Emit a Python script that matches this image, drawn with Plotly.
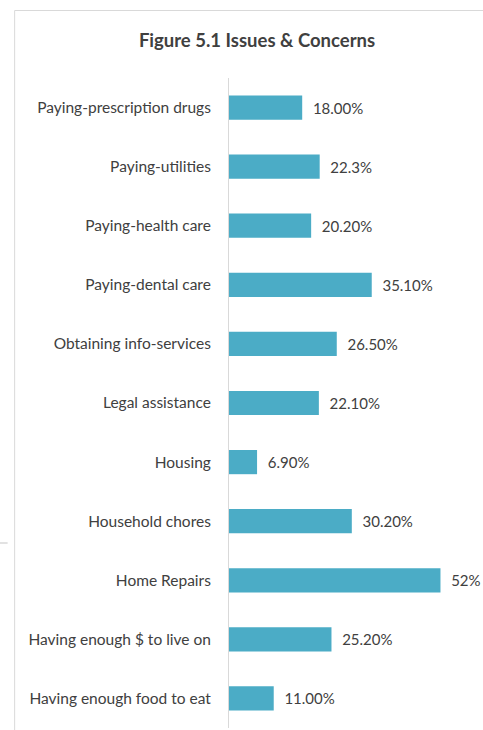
import plotly.graph_objects as go

# Survey issues, listed top to bottom
categories = [
    "Paying-prescription drugs",
    "Paying-utilities",
    "Paying-health care",
    "Paying-dental care",
    "Obtaining info-services",
    "Legal assistance",
    "Housing",
    "Household chores",
    "Home Repairs",
    "Having enough $ to live on",
    "Having enough food to eat",
]
values = [18.0, 22.3, 20.2, 35.1, 26.5, 22.1, 6.9, 30.2, 52.0, 25.2, 11.0]
value_labels = ["18.00%", "22.3%", "20.20%", "35.10%", "26.50%", "22.10%",
                "6.90%", "30.20%", "52%", "25.20%", "11.00%"]

BAR = "#4BACC6"
TEXT = "#404040"
GRID = "#D9D9D9"
FONT = "Lato"

fig = go.Figure(
    go.Bar(
        x=values,
        y=categories,
        orientation="h",
        marker=dict(color=BAR, line=dict(width=0)),
        text=["  " + s for s in value_labels],
        textposition="outside",
        textfont=dict(family=FONT, size=15, color=TEXT),
        cliponaxis=False,
        hoverinfo="skip",
    )
)

# frame around the chart (top and left edges)
L, PW = 229, 243.6
T, PH = 78, 650


def px_x(p):
    return (p - L) / PW


def px_y(p):
    return (T + PH - p) / PH


shapes = [
    dict(type="line", xref="paper", yref="paper",
         x0=px_x(15), x1=px_x(490), y0=px_y(10.5), y1=px_y(10.5),
         line=dict(color=GRID, width=1)),
    dict(type="line", xref="paper", yref="paper",
         x0=px_x(15), x1=px_x(15), y0=px_y(10.5), y1=px_y(735),
         line=dict(color=GRID, width=1)),
    dict(type="line", xref="paper", yref="paper",
         x0=px_x(0), x1=px_x(8), y0=px_y(543), y1=px_y(543),
         line=dict(color=GRID, width=1.5)),
]

fig.update_layout(
    width=483,
    height=730,
    margin=dict(l=L, r=483 - L - PW, t=T, b=730 - T - PH),
    paper_bgcolor="white",
    plot_bgcolor="white",
    bargap=0.59,
    showlegend=False,
    shapes=shapes,
    title=dict(
        text="<b>Figure 5.1 Issues & Concerns</b>",
        x=257 / 483,
        xanchor="center",
        y=1 - 41 / 730,
        yanchor="middle",
        font=dict(family=FONT, size=18.5, color=TEXT),
    ),
    xaxis=dict(
        range=[0, 60],
        visible=False,
        showgrid=False,
        zeroline=False,
        fixedrange=True,
    ),
    yaxis=dict(
        autorange="reversed",
        showline=True,
        linecolor=GRID,
        linewidth=1,
        ticks="",
        ticklabelstandoff=14,
        tickfont=dict(family=FONT, size=15.5, color=TEXT),
        showgrid=False,
        fixedrange=True,
    ),
)

fig.write_html("out.html")
